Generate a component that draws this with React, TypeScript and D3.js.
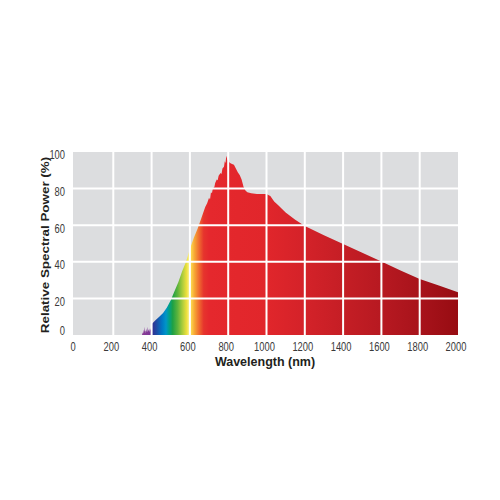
import React from "react";
import * as d3 from "d3";

const wavelengths = [
  350, 352, 355, 358, 360, 363, 365, 368, 370, 373, 376, 378, 380, 383, 386, 388, 391, 394, 397, 399,
  400, 410, 420, 440, 460, 480, 500, 520, 540, 560, 580, 600, 620, 640, 660, 680, 690, 700, 705, 710,
  715, 720, 728, 732, 740, 745, 750, 760, 765, 770, 778, 782, 786, 790, 795, 800, 810, 820, 830, 840,
  850, 860, 870, 880, 890, 900, 920, 950, 1000, 1010, 1020, 1040, 1060, 1080, 1100, 1150, 1200, 1300,
  1400, 1500, 1600, 1700, 1800, 1900, 2000,
];
const power = [
  0, 1.5, 0.5, 3, 1, 4.5, 2, 2.5, 1, 3.5, 1.5, 2, 4.5, 2, 3, 1.5, 3.5, 2.5, 4, 5.5,
  6, 7, 8, 10, 12, 15, 19, 24, 29, 35, 40, 47, 53, 58, 64, 70, 72, 75, 74, 78,
  77.5, 80, 81, 83, 85, 84.5, 87, 88.5, 88, 91, 92, 95, 94, 98, 96, 95, 94, 93.5, 93, 91,
  89, 87.5, 85, 81, 79, 78, 77.5, 77, 77, 76.5, 76, 73, 71, 69, 67, 63, 59.5, 54.5,
  49.7, 45, 40.2, 35.3, 30.6, 27, 23.3,
];
const xTicks = [0, 200, 400, 600, 800, 1000, 1200, 1400, 1600, 1800, 2000];
const yTicks = [0, 20, 40, 60, 80, 100];
const colorStops: [number, string][] = [
  [350, "#8b3c95"],
  [396, "#7a3597"],
  [401, "#362d8e"],
  [425, "#1f4aa4"],
  [455, "#0078c4"],
  [475, "#0095c8"],
  [492, "#00a087"],
  [510, "#1ea044"],
  [535, "#5bb33c"],
  [560, "#a8cb3b"],
  [582, "#eadf3c"],
  [596, "#fbf07e"],
  [608, "#fcd24a"],
  [625, "#f6a434"],
  [648, "#ef6a2f"],
  [672, "#e6342d"],
  [700, "#e5282d"],
  [1000, "#e1262b"],
  [1200, "#d42229"],
  [1400, "#c51e25"],
  [1600, "#b71921"],
  [1800, "#a8131b"],
  [2000, "#970c12"],
];

export default function App() {
  const left = 73;
  const right = 458;
  const top = 152;
  const bottom = 335;
  const x = d3.scaleLinear().domain([0, 2000]).range([75, 458]);
  const y = d3.scaleLinear().domain([0, 100]).range([bottom, top]);
  const data = wavelengths.map((w, i) => ({ w, p: power[i] }));
  const area = d3
    .area<{ w: number; p: number }>()
    .x((d) => x(d.w))
    .y0(y(0))
    .y1((d) => y(d.p));
  const gx1 = x(350);
  const gx2 = x(2000);
  const font = "Arial, 'Liberation Sans', Helvetica, sans-serif";

  return (
    <svg width={500} height={500} style={{ display: "block", position: "absolute", left: 0, top: 0 }}>
      <defs>
        <linearGradient id="spec" gradientUnits="userSpaceOnUse" x1={gx1} x2={gx2} y1={0} y2={0}>
          {colorStops.map(([w, c], i) => (
            <stop key={i} offset={(x(w) - gx1) / (gx2 - gx1)} stopColor={c} />
          ))}
        </linearGradient>
        <clipPath id="plot">
          <rect x={left} y={top} width={right - left} height={bottom - top} />
        </clipPath>
      </defs>
      <rect x={left} y={top} width={right - left} height={bottom - top} fill="#dcdddf" />
      <path d={area(data) || ""} fill="url(#spec)" clipPath="url(#plot)" />
      {xTicks
        .filter((t) => t > 0 && t < 2000)
        .map((t) => (
          <line key={"vx" + t} x1={x(t)} x2={x(t)} y1={top} y2={bottom} stroke="#fff" strokeWidth={2} />
        ))}
      {yTicks
        .filter((t) => t > 0 && t < 100)
        .map((t) => (
          <line key={"hy" + t} x1={left} x2={right} y1={y(t)} y2={y(t)} stroke="#fff" strokeWidth={2} />
        ))}
      {xTicks.map((t) => (
        <text
          key={"tx" + t}
          transform={`translate(${x(t) - 2},351) scale(0.78,1)`}
          textAnchor="middle"
          fontFamily={font}
          fontSize={12}
          fill="#3a3a3a"
        >
          {t}
        </text>
      ))}
      {yTicks.map((t) => (
        <text
          key={"ty" + t}
          transform={`translate(65,${Math.min(Math.max(y(t) + 3, 153), 331)}) scale(0.78,1)`}
          textAnchor="end"
          dominantBaseline="central"
          fontFamily={font}
          fontSize={12}
          fill="#3a3a3a"
        >
          {t}
        </text>
      ))}
      <text
        x={265}
        y={366}
        textAnchor="middle"
        fontFamily={font}
        fontSize={12.5}
        fontWeight="bold"
        fill="#231f20"
      >
        Wavelength (nm)
      </text>
      <text
        transform={`translate(49,245) rotate(-90) scale(1,0.85)`}
        textAnchor="middle"
        fontFamily={font}
        fontSize={13.4}
        fontWeight="bold"
        fill="#231f20"
      >
        Relative Spectral Power (%)
      </text>
    </svg>
  );
}
